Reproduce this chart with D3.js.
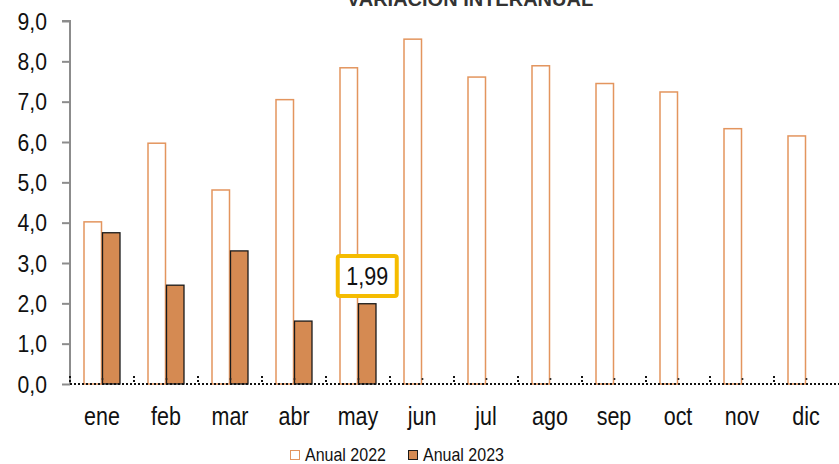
<!DOCTYPE html>
<html><head><meta charset="utf-8">
<script src="https://cdn.jsdelivr.net/npm/d3@7"></script>
<style>body{margin:0;background:#fff}svg{display:block}</style>
</head><body><svg id="c" width="839" height="464"></svg>
<script>
const months = ["ene","feb","mar","abr","may","jun","jul","ago","sep","oct","nov","dic"];
const anual2022 = [4.02,5.97,4.81,7.05,7.84,8.55,7.61,7.89,7.45,7.24,6.33,6.15];
const anual2023 = [3.75,2.45,3.30,1.56,1.99,0,0,0,0,0,0,0];
const yTicks = [0,1,2,3,4,5,6,7,8,9];
const seriesNames = ["Anual 2022","Anual 2023"];
const title = "VARIACIÓN INTERANUAL";
const highlight = {month:"may", series:"Anual 2023", label:"1,99"};

const font = "'Liberation Sans',Arial,sans-serif";
const svg = d3.select("#c");
const m = {l:70, t:21, b:384};
const x = d3.scaleBand().domain(months).range([m.l, 838]);
const y = d3.scaleLinear().domain([0,9]).range([m.b, m.t]);
const inner = d3.scaleBand().domain(seriesNames).range([0, x.bandwidth()]).paddingOuter(0.73);
const fmt = d => d3.format(".1f")(d).replace(".", ",");

// title
svg.append("text").attr("x",470).attr("y",6).attr("text-anchor","middle")
  .attr("font-family",font).attr("font-weight","bold").attr("font-size",20)
  .attr("fill","#333").text(title);

// y axis
const ya = svg.append("g").attr("transform",`translate(${m.l},0)`)
  .call(d3.axisLeft(y).tickValues(yTicks).tickFormat(fmt).tickSize(8));
ya.select(".domain").attr("stroke","#8c8c8c").attr("stroke-width",2).attr("d",`M-8,${m.t}H0V${m.b}`);
ya.selectAll(".tick line").attr("stroke","#8c8c8c").attr("stroke-width",2);
const sy = 0.92;
ya.selectAll(".tick text").attr("font-family",font).attr("font-size",23).attr("fill","#111")
  .attr("x", -23/sy).attr("dy","0.36em").attr("transform",`scale(${sy},1)`);

// bars 2022
const g = svg.append("g");
g.selectAll("rect.a").data(months).join("rect").attr("class","a")
  .attr("x", d => x(d) + inner(seriesNames[0]) + 0.5)
  .attr("y", (d,i) => y(anual2022[i]))
  .attr("width", inner.bandwidth() - 1)
  .attr("height", (d,i) => y(0) - y(anual2022[i]))
  .attr("fill","#fff").attr("stroke","#E3955E").attr("stroke-width",1.5);

// bars 2023
g.selectAll("rect.b").data(months.filter((d,i)=>anual2023[i]>0)).join("rect").attr("class","b")
  .attr("x", d => x(d) + inner(seriesNames[1]) + 0.5)
  .attr("y", d => y(anual2023[months.indexOf(d)]))
  .attr("width", inner.bandwidth() - 1)
  .attr("height", d => y(0) - y(anual2023[months.indexOf(d)]))
  .attr("fill","#D58A52").attr("stroke","#1a1a1a").attr("stroke-width",1.3);

// zero bar dots for 2023
g.selectAll("circle.z").data(months).join("circle").attr("class","z")
  .attr("cx", d => x(d) + inner(seriesNames[1]) + 0.5)
  .attr("cy", y(0) - 5).attr("r",1).attr("fill","#222");

// x axis baseline dotted
svg.append("line").attr("x1",m.l).attr("x2",839).attr("y1",y(0)).attr("y2",y(0))
  .attr("stroke","#111").attr("stroke-width",2).attr("stroke-dasharray","2,2");
// boundary dotted ticks
svg.selectAll("line.bt").data(months).join("line").attr("class","bt")
  .attr("x1", d => x(d)).attr("x2", d => x(d))
  .attr("y1", y(0) - 8).attr("y2", y(0))
  .attr("stroke","#111").attr("stroke-width",2).attr("stroke-dasharray","2,2");

// x labels
const sx = 0.86;
const xa = svg.append("g").attr("transform",`translate(0,${m.b})`)
  .call(d3.axisBottom(x).tickSize(0));
xa.select(".domain").remove();
xa.selectAll(".tick text").attr("font-family",font).attr("font-size",25).attr("fill","#111")
  .attr("y",41).attr("dy",null).attr("transform",`scale(${sx},1)`);

// highlight box
const hx = x(highlight.month) + inner(highlight.series) + inner.bandwidth()/2;
const hg = svg.append("g");
hg.append("rect").attr("x", hx - 29.5).attr("y", 256).attr("width",59).attr("height",40).attr("rx",2)
  .attr("fill","#fff").attr("stroke","#F5BC00").attr("stroke-width",4);
hg.append("text").attr("x", hx/0.86).attr("y", 285).attr("text-anchor","middle")
  .attr("transform","scale(0.86,1)")
  .attr("font-family",font).attr("font-size",25).attr("fill","#111").text(highlight.label);

// legend
const sl = 0.89;
const lg = svg.append("g").attr("transform","translate(290,450)");
const items = [{n:seriesNames[0], fill:"#fff", stroke:"#E3955E", x:0},{n:seriesNames[1], fill:"#D58A52", stroke:"#1a1a1a", x:118}];
items.forEach(it => {
  lg.append("rect").attr("x",it.x+0.5).attr("y",0.5).attr("width",9).attr("height",9)
    .attr("fill",it.fill).attr("stroke",it.stroke).attr("stroke-width",1);
  lg.append("text").attr("x",(it.x+15)/sl).attr("y",10.5).attr("transform",`scale(${sl},1)`)
    .attr("font-family",font).attr("font-size",18)
    .attr("fill","#111").text(it.n);
});
</script></body></html>
